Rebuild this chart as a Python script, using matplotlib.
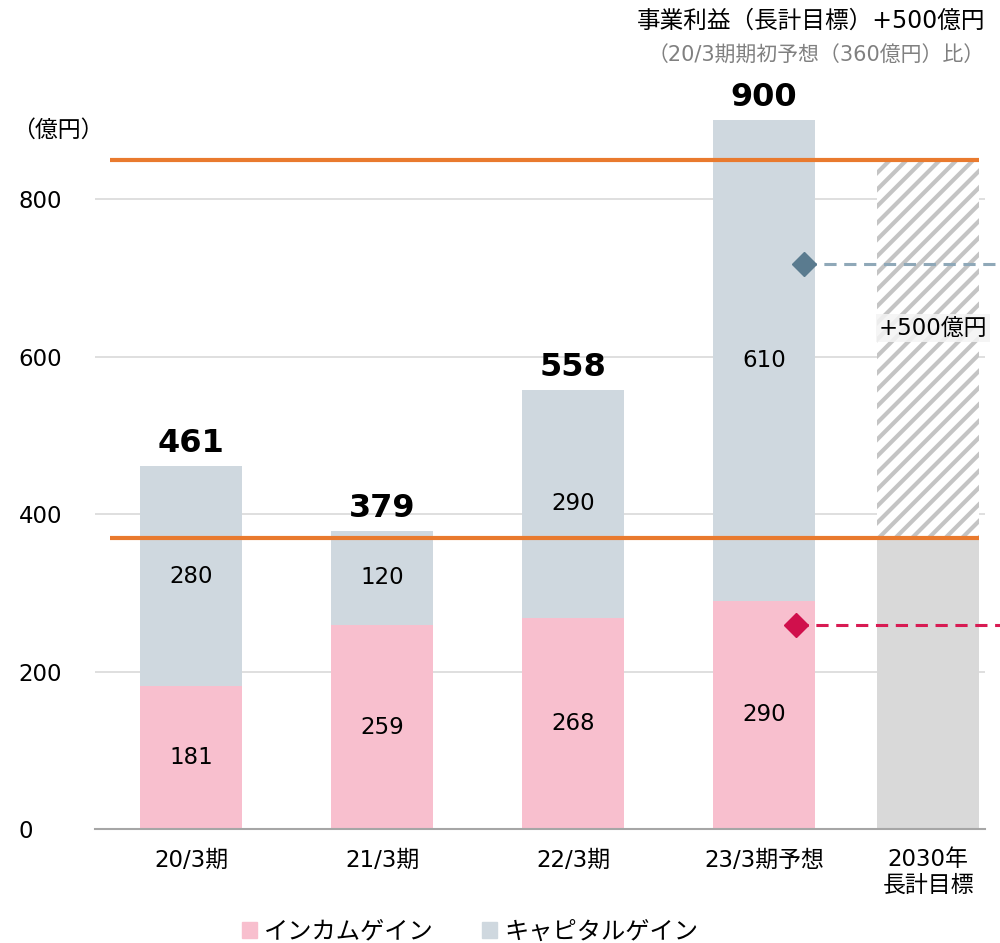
import numpy as np
import matplotlib
matplotlib.use('Agg')
import matplotlib.pyplot as plt
from matplotlib.patches import Rectangle

plt.rcParams['font.family'] = ['DejaVu Sans', 'Noto Sans CJK JP']
plt.rcParams['hatch.color'] = '#C4C4C4'
plt.rcParams['hatch.linewidth'] = 3.0

# データ
categories = ['20/3期', '21/3期', '22/3期', '23/3期予想', '2030年\n長計目標']
income_gain = [181, 259, 268, 290]
capital_gain = [280, 120, 290, 610]
totals = [461, 379, 558, 900]
target_base = 370
target_top = 850
income_marker = 259
capital_marker = 717
legend_labels = ['インカムゲイン', 'キャピタルゲイン']

c_income = '#F8BFCE'
c_capital = '#CFD8DF'
c_target = '#D9D9D9'
c_orange = '#E97A2E'

x = np.array([0, 1, 2, 3, 3.86])
w = 0.535

fig = plt.figure(figsize=(10, 9.43), dpi=100)
ax = fig.add_axes([0.095, 0.1209, 0.89, 0.7724])
ax.set_xlim(-0.503, 4.157)
ax.set_ylim(0, 925)

ax.yaxis.grid(True, color='#D9D9D9', linewidth=1.2)
ax.set_axisbelow(True)

ax.bar(x[:4], income_gain, w, color=c_income, zorder=2)
ax.bar(x[:4], capital_gain, w, bottom=income_gain, color=c_capital, zorder=2)
ax.bar(x[4], target_base, w, color=c_target, zorder=2)
ax.bar(x[4], target_top - target_base, w, bottom=target_base,
       color='white', hatch='//', edgecolor='#C4C4C4', linewidth=0, zorder=2)

for i in range(4):
    ax.text(x[i], income_gain[i] / 2, str(income_gain[i]), ha='center', va='center', fontsize=16.5, zorder=4)
    ax.text(x[i], income_gain[i] + capital_gain[i] / 2, str(capital_gain[i]),
            ha='center', va='center', fontsize=16.5, zorder=4)
    ax.annotate(str(totals[i]), (x[i], totals[i]), xytext=(0, 5), textcoords='offset points',
                ha='center', va='bottom', fontsize=23, fontweight='bold')

# 長計目標ライン
x_left = -0.424
x_right = x[4] + w / 2
ax.plot([x_left, x_right], [target_top, target_top], color=c_orange, lw=3, zorder=5, solid_capstyle='butt')
ax.plot([x_left, x_right], [target_base, target_base], color=c_orange, lw=3, zorder=5, solid_capstyle='butt')

# 目標マーカー
ax.plot([3.21, 4.24], [capital_marker, capital_marker], ls=(0, (4, 2.5)), color='#8FA8B8', lw=2.2,
        clip_on=False, zorder=5)
ax.plot([3.21], [capital_marker], marker='D', ms=12, color='#5A7B8F', zorder=6, clip_on=False)
ax.plot([3.17, 4.24], [income_marker, income_marker], ls=(0, (4, 2.5)), color='#D81B53', lw=2.2,
        clip_on=False, zorder=5)
ax.plot([3.17], [income_marker], marker='D', ms=12, color='#D0104C', zorder=6, clip_on=False)

ax.text(x[4] - 0.26, 636, '+500億円', ha='left', va='center', fontsize=16.5, zorder=6,
        bbox=dict(facecolor='#F4F4F4', edgecolor='none', alpha=0.85, pad=2))

ax.set_xticks(x)
ax.set_xticklabels(categories, fontsize=16.5, linespacing=1.15)
ax.set_yticks([0, 200, 400, 600, 800])
ax.tick_params(axis='y', labelsize=16.5, length=0, pad=55)
ax.tick_params(axis='x', length=0, pad=14)
for lbl in ax.get_yticklabels():
    lbl.set_horizontalalignment('left')
for s in ['top', 'right', 'left']:
    ax.spines[s].set_visible(False)
ax.spines['bottom'].set_color('#A6A6A6')
ax.spines['bottom'].set_linewidth(1.5)

fig.text(0.012, 0.862, '（億円）', fontsize=16.5, ha='left', va='center')
fig.text(0.985, 0.978, '事業利益（長計目標）+500億円', fontsize=17, ha='right', va='center')
fig.text(0.985, 0.941, '（20/3期期初予想（360億円）比）', fontsize=15, ha='right', va='center', color='#808080')

# 凡例
handles = [Rectangle((0, 0), 1, 1, color=c_income), Rectangle((0, 0), 1, 1, color=c_capital)]
fig.legend(handles, legend_labels, loc='center', bbox_to_anchor=(0.47, 0.012), ncol=2, frameon=False,
           fontsize=17.5, handlelength=0.6, handleheight=0.6, handletextpad=0.3, columnspacing=2.0)

fig.savefig('out.png', dpi=100)
